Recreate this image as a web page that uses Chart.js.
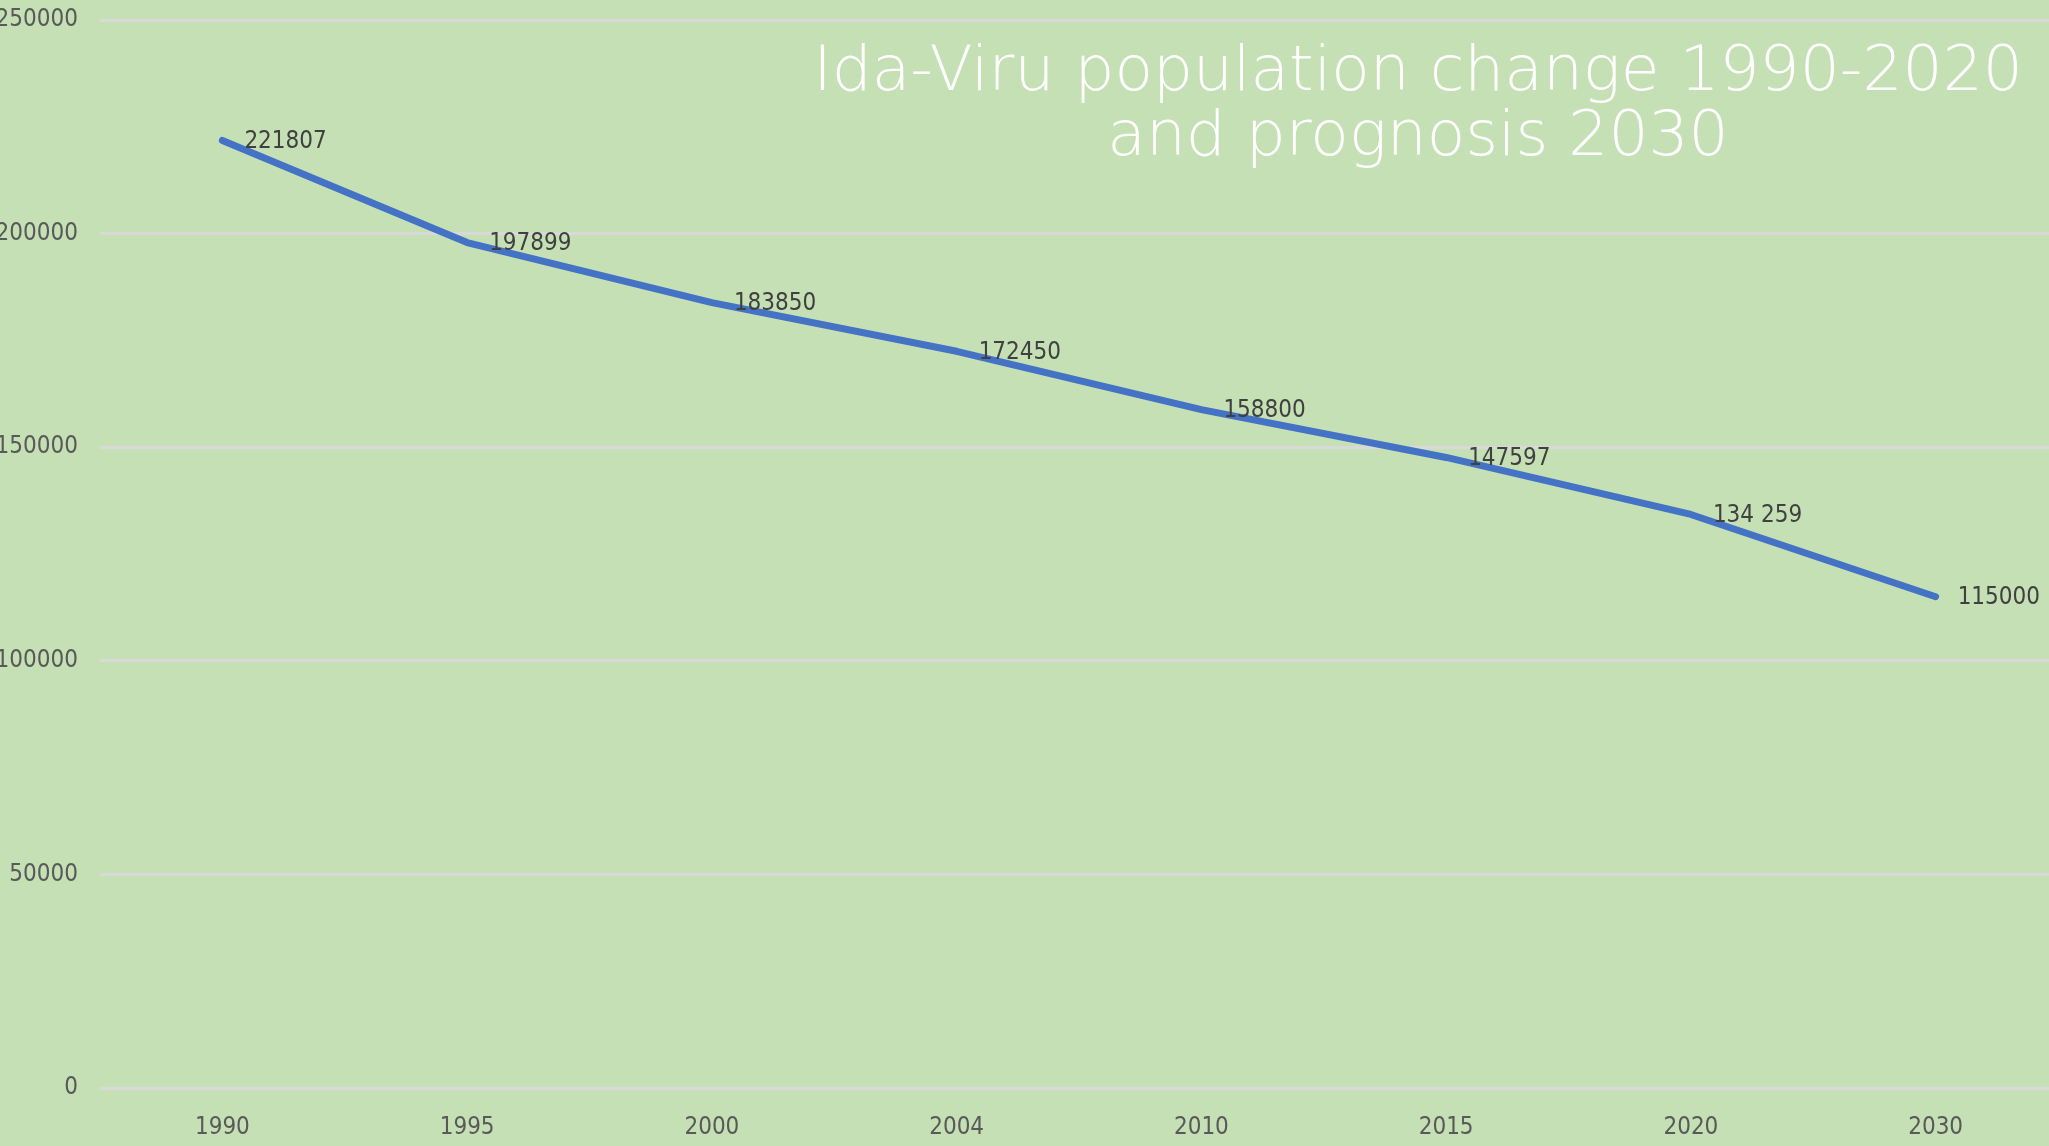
<!DOCTYPE html>
<html>
<head>
<meta charset="utf-8">
<script src="https://cdn.jsdelivr.net/npm/chart.js@4/dist/chart.umd.min.js"></script>
<style>
  html, body { margin: 0; padding: 0; background: #C5E0B4; overflow: hidden; }
  #wrap { position: relative; width: 2049px; height: 1146px; overflow: hidden; }
  #c { position: absolute; left: 0; top: 0; }
  #title {
    position: absolute; left: 768px; top: 36px; width: 1300px;
    text-align: center; color: #ffffff;
    font-family: 'DejaVu Sans', Lato, sans-serif; font-weight: 200;
    font-size: 63px; line-height: 65px;
  }
</style>
</head>
<body>
<div id="wrap">
  <canvas id="c" width="2058" height="1146"></canvas>
  <div id="title">Ida-Viru population change 1990-2020<br>and prognosis 2030</div>
</div>
<script>
const categories = ["1990", "1995", "2000", "2004", "2010", "2015", "2020", "2030"];
const populationValues = [221807, 197899, 183850, 172450, 158800, 147597, 134259, 115000];
const dataLabelTexts = ["221807", "197899", "183850", "172450", "158800", "147597", "134 259", "115000"];
const yTickMin = 0;
const yTickMax = 250000;
const yTickStep = 50000;

const FONT_FAMILY = "'Liberation Sans Narrow', 'DejaVu Sans Condensed', 'Open Sans', sans-serif";
const FONT_SIZE = 24;

const dataLabelPlugin = {
  id: 'dataLabelPlugin',
  afterDatasetsDraw(chart) {
    const ctx = chart.ctx;
    const meta = chart.getDatasetMeta(0);
    ctx.save();
    ctx.font = FONT_SIZE + "px " + FONT_FAMILY;
    ctx.fillStyle = '#404040';
    ctx.textAlign = 'left';
    ctx.textBaseline = 'middle';
    meta.data.forEach((pt, i) => {
      ctx.fillText(dataLabelTexts[i], pt.x + 22, pt.y + 1);
    });
    ctx.restore();
  }
};

new Chart(document.getElementById('c'), {
  type: 'line',
  data: {
    labels: categories,
    datasets: [{
      data: populationValues,
      borderColor: '#4472C4',
      borderWidth: 7,
      borderCapStyle: 'round',
      borderJoinStyle: 'round',
      pointRadius: 0,
      pointHoverRadius: 0,
      tension: 0,
      fill: false
    }]
  },
  options: {
    responsive: false,
    animation: false,
    events: [],
    layout: { padding: { top: 20, right: 0, bottom: 0, left: 0 } },
    plugins: {
      legend: { display: false },
      title: { display: false },
      tooltip: { enabled: false }
    },
    scales: {
      x: {
        offset: true,
        grid: { display: false, drawTicks: false },
        border: { display: false },
        ticks: {
          color: '#595959',
          font: { family: FONT_FAMILY, size: FONT_SIZE },
          padding: 25,
          maxRotation: 0,
          autoSkip: false
        },
        afterFit(scale) { scale.height = 58; scale.paddingLeft = 0; scale.paddingRight = 0; }
      },
      y: {
        min: yTickMin,
        max: yTickMax,
        grid: { color: '#D9D9D9', lineWidth: 3, drawTicks: false },
        border: { display: false },
        ticks: {
          stepSize: yTickStep,
          color: '#595959',
          font: { family: FONT_FAMILY, size: FONT_SIZE },
          padding: 22,
          callback: (v) => String(v)
        },
        afterFit(scale) { scale.width = 100; scale.paddingTop = 0; scale.paddingBottom = 0; }
      }
    }
  },
  plugins: [dataLabelPlugin]
});
</script>
</body>
</html>
